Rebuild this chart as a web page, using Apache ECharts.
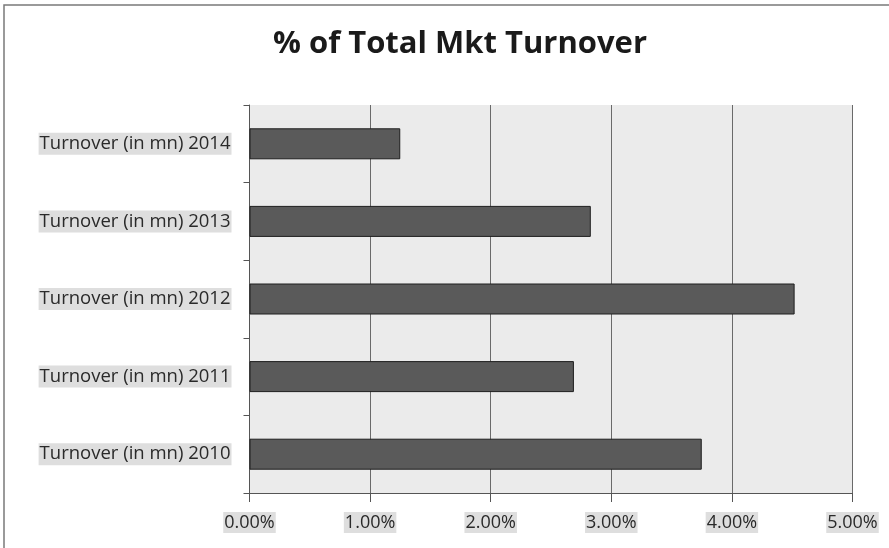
<!DOCTYPE html>
<html>
<head>
<meta charset="utf-8">
<script src="https://cdn.jsdelivr.net/npm/echarts@6/dist/echarts.min.js"></script>
<style>
  html, body { margin: 0; padding: 0; background: #fff; }
  #chart { width: 889px; height: 548px; }
</style>
</head>
<body>
<div id="chart"></div>
<script>
// Categories listed bottom-to-top on the vertical axis
const categories = [
  'Turnover (in mn) 2010',
  'Turnover (in mn) 2011',
  'Turnover (in mn) 2012',
  'Turnover (in mn) 2013',
  'Turnover (in mn) 2014'
];
// Share of total market turnover, in percent
const shareValues = [3.75, 2.69, 4.52, 2.83, 1.25];
const titleText = '% of Total Mkt Turnover';
const xMin = 0, xMax = 5, xStep = 1;

const chart = echarts.init(document.getElementById('chart'), null, { renderer: 'canvas' });

const labelFont = '"Open Sans", "Liberation Sans", sans-serif';

chart.setOption({
  backgroundColor: '#ffffff',
  animation: false,
  title: {
    text: titleText,
    left: 455,
    textAlign: 'center',
    top: 24,
    textStyle: {
      fontFamily: labelFont,
      fontWeight: 'bold',
      fontSize: 31,
      color: '#1a1a1a'
    }
  },
  graphic: [{
    type: 'rect',
    shape: { x: 4, y: 5, width: 900, height: 560 },
    style: { fill: null, stroke: '#7a7a7a', lineWidth: 1.5 },
    silent: true,
    z: -1
  }],
  grid: {
    left: 249.5,
    right: 889 - 852.5,
    top: 105,
    bottom: 548 - 493,
    show: true,
    backgroundColor: '#ebebeb',
    borderWidth: 0
  },
  xAxis: {
    type: 'value',
    min: xMin,
    max: xMax,
    interval: xStep,
    axisLine: { show: true, lineStyle: { color: '#555', width: 1 } },
    axisTick: { show: true, length: 9, lineStyle: { color: '#555' } },
    splitLine: { show: true, lineStyle: { color: '#6a6a6a', width: 1 } },
    axisLabel: {
      margin: 19,
      fontFamily: labelFont,
      fontSize: 18,
      color: '#2a2a2a',
      backgroundColor: '#dedede',
      padding: [2, 1, 1, 1],
      formatter: v => v.toFixed(2) + '%'
    }
  },
  yAxis: {
    type: 'category',
    data: categories,
    axisLine: { show: true, lineStyle: { color: '#555', width: 1 } },
    axisTick: { show: true, length: 6, lineStyle: { color: '#555' } },
    splitLine: { show: false },
    axisLabel: {
      margin: 18,
      fontFamily: labelFont,
      fontSize: 18.5,
      color: '#2a2a2a',
      backgroundColor: '#dedede',
      padding: [2, 1, 1, 1]
    }
  },
  series: [{
    type: 'bar',
    data: shareValues,
    barWidth: 31,
    itemStyle: {
      color: '#5a5a5a',
      borderColor: '#1e1e1e',
      borderWidth: 1
    }
  }]
});
</script>
</body>
</html>
